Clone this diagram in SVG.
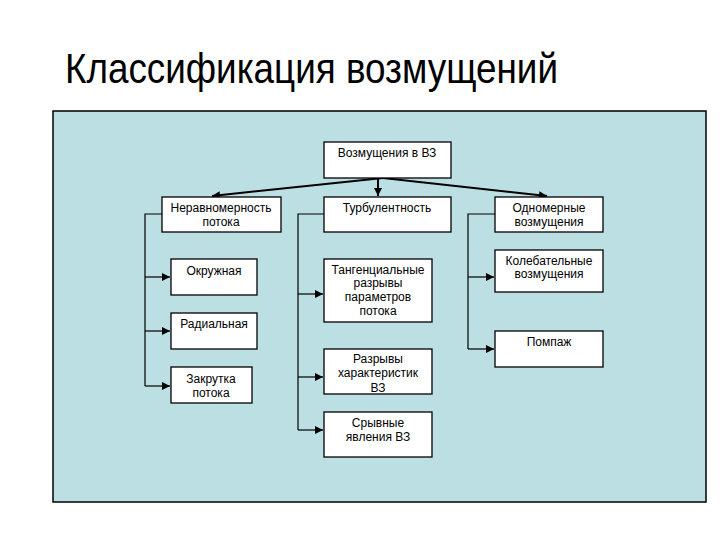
<svg xmlns="http://www.w3.org/2000/svg" width="720" height="540" viewBox="0 0 720 540">
<defs>
<style>
.box{fill:#fff;stroke:#000;stroke-width:1.3}
.t{font-family:"Liberation Sans",Arial,sans-serif;font-size:12px;fill:#000;text-anchor:middle}
.c{fill:none;stroke:#000;stroke-width:1.2}
.ct{fill:none;stroke:#000;stroke-width:2}
</style>
<marker id="a" viewBox="0 0 10 10" refX="10" refY="5" markerWidth="8" markerHeight="8" markerUnits="userSpaceOnUse" orient="auto"><path d="M0,0L10,5L0,10z" fill="#000"/></marker>
</defs>
<rect width="720" height="540" fill="#fff"/>
<text x="65" y="83" font-family="Liberation Sans,Arial,sans-serif" font-size="42" textLength="493" lengthAdjust="spacingAndGlyphs">Классификация возмущений</text>
<rect x="53" y="111" width="653" height="391" fill="#bcdfe3" stroke="#000" stroke-width="1.5"/>
<g id="connectors">
<path class="ct" d="M383,178L212,196" marker-end="url(#a)"/>
<path class="ct" d="M378,178L378,196" marker-end="url(#a)"/>
<path class="ct" d="M383,178L547,196" marker-end="url(#a)"/>
<path class="c" d="M162,214H145V386"/>
<path class="c" d="M145,277H170" marker-end="url(#a)"/>
<path class="c" d="M145,331H170" marker-end="url(#a)"/>
<path class="c" d="M145,386H170" marker-end="url(#a)"/>
<path class="c" d="M324,214H298V430"/>
<path class="c" d="M298,294H323" marker-end="url(#a)"/>
<path class="c" d="M298,377H323" marker-end="url(#a)"/>
<path class="c" d="M298,430H323" marker-end="url(#a)"/>
<path class="c" d="M495,214H468V349"/>
<path class="c" d="M468,277H494" marker-end="url(#a)"/>
<path class="c" d="M468,349H494" marker-end="url(#a)"/>
</g>
<g id="root"><rect class="box" x="324" y="142" width="127" height="36"/><text class="t" x="387" y="157">Возмущения в ВЗ</text></g>
<g id="nerav"><rect class="box" x="162" y="197" width="119" height="35"/><text class="t" x="221" y="212">Неравномерность</text><text class="t" x="221" y="226">потока</text></g>
<g id="turb"><rect class="box" x="324" y="197" width="127" height="35"/><text class="t" x="387" y="212">Турбулентность</text></g>
<g id="odnom"><rect class="box" x="495" y="197" width="108" height="35"/><text class="t" x="549" y="212">Одномерные</text><text class="t" x="549" y="226">возмущения</text></g>
<g id="okr"><rect class="box" x="171" y="259" width="86" height="36"/><text class="t" x="214" y="275">Окружная</text></g>
<g id="rad"><rect class="box" x="171" y="313" width="86" height="36"/><text class="t" x="214" y="328">Радиальная</text></g>
<g id="zakr"><rect class="box" x="171" y="367" width="81" height="36"/><text class="t" x="211" y="383">Закрутка</text><text class="t" x="211" y="397">потока</text></g>
<g id="tang"><rect class="box" x="324" y="259" width="108" height="63"/><text class="t" x="378" y="274">Тангенциальные</text><text class="t" x="378" y="287">разрывы</text><text class="t" x="378" y="301">параметров</text><text class="t" x="378" y="315">потока</text></g>
<g id="razr"><rect class="box" x="324" y="349" width="108" height="45"/><text class="t" x="378" y="363">Разрывы</text><text class="t" x="378" y="377">характеристик</text><text class="t" x="378" y="392">ВЗ</text></g>
<g id="sryv"><rect class="box" x="324" y="412" width="108" height="45"/><text class="t" x="378" y="427">Срывные</text><text class="t" x="378" y="441">явления ВЗ</text></g>
<g id="koleb"><rect class="box" x="495" y="250" width="108" height="42"/><text class="t" x="549" y="265">Колебательные</text><text class="t" x="549" y="278">возмущения</text></g>
<g id="pompazh"><rect class="box" x="495" y="331" width="108" height="36"/><text class="t" x="549" y="346">Помпаж</text></g>
</svg>
